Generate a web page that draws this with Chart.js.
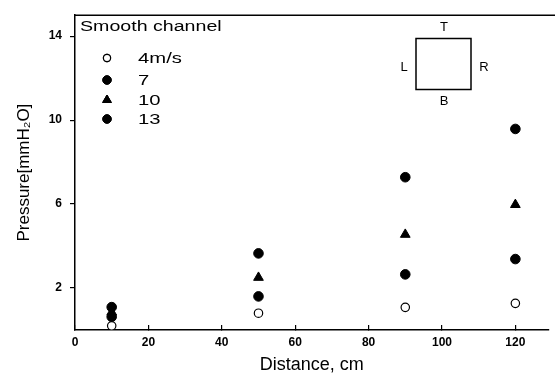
<!DOCTYPE html>
<html>
<head>
<meta charset="utf-8">
<script src="https://cdn.jsdelivr.net/npm/chart.js@4"></script>
<style>
  html, body { margin: 0; padding: 0; background: #fff; }
  #wrap { width: 555px; height: 376px; }
</style>
</head>
<body>
<div id="wrap"><canvas id="chart" width="555" height="376"></canvas></div>
<script>
// distances along the channel (cm)
const distances = [10, 50, 90, 120];
// pressure readings (mmH2O), one list per velocity
const p4 = [0.2, 0.8, 1.08, 1.27];
const p7 = [0.63, 1.6, 2.65, 3.38];
const p10 = [0.85, 2.5, 4.55, 5.97];
const p13 = [1.09, 3.65, 7.28, 9.58];
const seriesLabels = ['4m/s', '7', '10', '13'];
const yTicks = [2, 6, 10, 14];
const xTicks = [0, 20, 40, 60, 80, 100, 120];

const FONT = '"Liberation Sans", Arial, sans-serif';

const styles = [
    { pointStyle: 'circle', radius: 4.2, bg: '#fff', border: 1.2 },
    { pointStyle: 'circle', radius: 4.8, bg: '#000', border: 1 },
    { pointStyle: 'triangle', radius: 5.6, bg: '#000', border: 1 },
    { pointStyle: 'circle', radius: 4.8, bg: '#000', border: 1 }
];

function toPoints(vals) {
    return distances.map((d, i) => ({ x: d, y: vals[i] }));
}

const datasets = [p4, p7, p10, p13].map((vals, i) => ({
    label: seriesLabels[i],
    data: toPoints(vals),
    pointStyle: styles[i].pointStyle,
    pointRadius: styles[i].radius,
    pointBackgroundColor: styles[i].bg,
    pointBorderColor: '#000',
    pointBorderWidth: styles[i].border,
    showLine: false
}));

// stretched text, the scanned original uses a wide face
function wideText(ctx, txt, x, y, sx) {
    ctx.save();
    ctx.translate(x, y);
    ctx.scale(sx, 1);
    ctx.fillText(txt, 0, 0);
    ctx.restore();
}

// legend, frame and the little cross-section sketch
const decorations = {
    id: 'decorations',
    afterDraw(chart) {
        const ctx = chart.ctx;
        const area = chart.chartArea;
        ctx.save();
        ctx.strokeStyle = '#000';
        ctx.lineWidth = 1.5;
        ctx.beginPath();
        ctx.moveTo(area.left, area.top);
        ctx.lineTo(555, area.top);
        ctx.stroke();

        ctx.fillStyle = '#000';
        ctx.font = '14px ' + FONT;
        ctx.textBaseline = 'middle';
        ctx.textAlign = 'left';
        wideText(ctx, 'Smooth channel', 80, 27, 1.4);
        const rows = [58, 80, 100, 119];
        datasets.forEach((ds, i) => {
            ctx.fillStyle = ds.pointBackgroundColor;
            ctx.strokeStyle = '#000';
            ctx.lineWidth = ds.pointBorderWidth;
            Chart.helpers.drawPoint(ctx, {
                pointStyle: ds.pointStyle, radius: ds.pointRadius - 0.6,
                borderWidth: ds.pointBorderWidth, rotation: 0
            }, 107, rows[i]);
            ctx.fill();
            ctx.stroke();
            ctx.fillStyle = '#000';
            ctx.font = '15px ' + FONT;
            wideText(ctx, ds.label, 138, rows[i] + 1, 1.35);
        });

        // square cross-section
        ctx.lineWidth = 1.5;
        ctx.strokeRect(416, 38.5, 55, 51);
        ctx.font = '13px ' + FONT;
        ctx.textAlign = 'center';
        ctx.fillText('T', 444, 27);
        ctx.fillText('L', 404, 67);
        ctx.fillText('R', 484, 67);
        ctx.fillText('B', 444, 101);
        ctx.restore();
    }
};

new Chart(document.getElementById('chart'), {
    type: 'scatter',
    data: { datasets: datasets },
    options: {
        responsive: false,
        animation: false,
        layout: { padding: { top: 10, right: 2, left: 0, bottom: 0 } },
        plugins: {
            legend: { display: false },
            tooltip: { enabled: false }
        },
        scales: {
            x: {
                type: 'linear',
                min: 0,
                max: 129,
                afterBuildTicks(scale) {
                    scale.ticks = xTicks.map(v => ({ value: v }));
                },
                afterFit(scale) { scale.height = 46; },
                grid: {
                    display: true,
                    drawOnChartArea: false,
                    drawTicks: true,
                    tickLength: -5,
                    color: '#000',
                    lineWidth: 1.2
                },
                border: { color: '#000', width: 1.5 },
                ticks: {
                    color: '#000',
                    padding: 10,
                    maxRotation: 0,
                    font: { family: FONT, size: 12, weight: 'bold' }
                },
                title: {
                    display: true,
                    text: 'Distance, cm',
                    color: '#000',
                    padding: { top: 4, bottom: 0 },
                    font: { family: FONT, size: 18 }
                }
            },
            y: {
                type: 'linear',
                min: 0,
                max: 15,
                afterBuildTicks(scale) {
                    scale.ticks = yTicks.map(v => ({ value: v }));
                },
                afterFit(scale) { scale.width = 75; },
                grid: {
                    display: true,
                    drawOnChartArea: false,
                    drawTicks: true,
                    tickLength: 5,
                    color: '#000',
                    lineWidth: 1.2
                },
                border: { color: '#000', width: 1.5 },
                ticks: {
                    color: '#000',
                    padding: 8,
                    font: { family: FONT, size: 12, weight: 'bold' }
                },
                title: {
                    display: true,
                    text: 'Pressure[mmH₂O]',
                    color: '#000',
                    padding: { top: 14, bottom: 0 },
                    font: { family: FONT, size: 17 }
                }
            }
        }
    },
    plugins: [decorations]
});
</script>
</body>
</html>
